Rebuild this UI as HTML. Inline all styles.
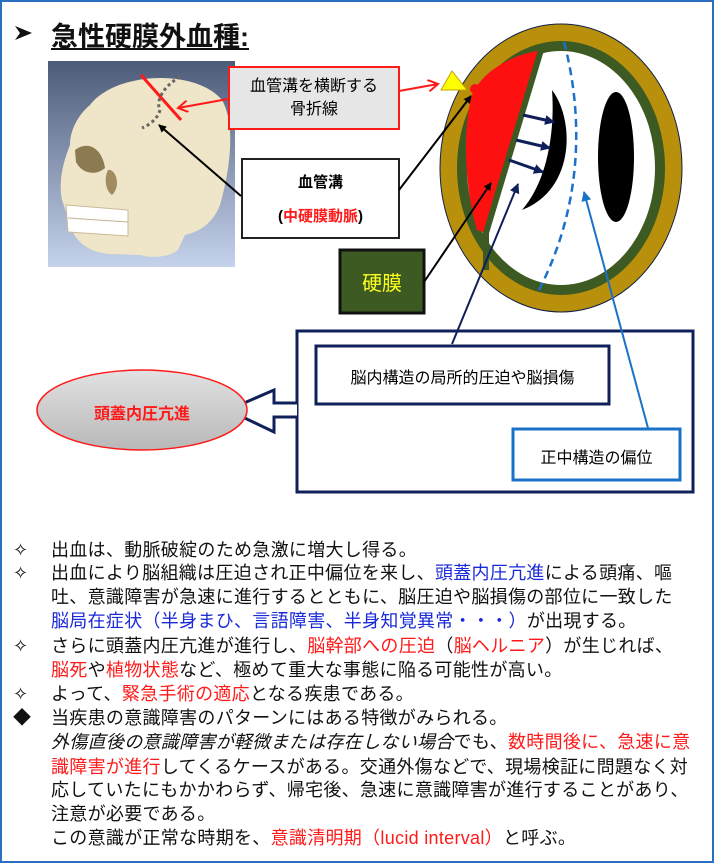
<!DOCTYPE html>
<html><head><meta charset="utf-8">
<style>
body{margin:0;background:#fff;}
#w{position:relative;width:715px;height:864px;overflow:hidden;font-family:"Liberation Sans","Noto Sans CJK JP",sans-serif;}
.t{position:absolute;left:51px;font-size:18px;line-height:24px;white-space:nowrap;color:#111;letter-spacing:0.3px}
.b{position:absolute;left:13px;font-size:18px;line-height:24px;color:#111}
.r{color:#ff1a1a}.u{color:#1a2ad8}
</style></head><body><div id="w">
<svg width="715" height="864" style="position:absolute;left:0;top:0">
<defs>
<linearGradient id="bg" x1="0" y1="0" x2="0" y2="1"><stop offset="0" stop-color="#4c5b78"/><stop offset="1" stop-color="#c5d2ec"/></linearGradient>
<linearGradient id="eg" x1="0" y1="0" x2="0" y2="1"><stop offset="0" stop-color="#e2e2e2"/><stop offset="1" stop-color="#b8b8b8"/></linearGradient>
<marker id="ab" markerWidth="8" markerHeight="8" refX="7" refY="4" orient="auto" markerUnits="userSpaceOnUse"><path d="M0,0 L8,4 L0,8 z" fill="#000"/></marker>
<marker id="ar" markerWidth="12" markerHeight="12" refX="10" refY="6" orient="auto" markerUnits="userSpaceOnUse"><path d="M0,0 L10,6 L0,12" fill="none" stroke="#ff1a1a" stroke-width="2"/></marker>
<marker id="an" markerWidth="10" markerHeight="10" refX="9" refY="5" orient="auto" markerUnits="userSpaceOnUse"><path d="M0,0 L10,5 L0,10 z" fill="#0f1f5a"/></marker>
<marker id="al" markerWidth="10" markerHeight="10" refX="9" refY="5" orient="auto" markerUnits="userSpaceOnUse"><path d="M0,0 L10,5 L0,10 z" fill="#1a72c8"/></marker>
</defs>
<rect x="1" y="1" width="712" height="861" fill="none" stroke="#2a6fc0" stroke-width="2"/>
<path d="M15,26 L32,33 L15,40 L20,33 z" fill="#111"/>
<!-- skull -->
<rect x="48" y="61" width="187" height="206" fill="url(#bg)"/>
<path d="M90,105 C115,72 195,68 222,100 C236,125 230,170 220,205 C212,225 198,232 185,235 L178,250 C168,258 150,258 140,255 L108,254 C92,252 78,245 72,230 L62,200 C58,180 64,160 70,145 C70,130 78,115 90,105 z" fill="#efe5c8"/>
<path d="M75,150 C88,140 102,148 105,168 C96,176 82,174 76,162 z" fill="#8c7a50"/>
<path d="M108,170 C115,168 122,185 112,195 C105,190 104,178 108,170 z" fill="#a08c60"/>
<path d="M66,205 L128,210 L128,236 L68,232 z" fill="#fff" stroke="#c8bb98"/>
<path d="M68,218 L128,222" stroke="#bfb291"/>
<path d="M141,75 L181,120" stroke="#ff1a1a" stroke-width="3"/>
<path d="M180,77 C165,85 155,100 160,110 C158,118 150,125 142,128" fill="none" stroke="#666" stroke-width="3" stroke-dasharray="3,3"/>
<rect x="229" y="67" width="170" height="62" fill="#e6e6e6" stroke="#ff1a1a" stroke-width="2"/>
<line x1="228" y1="99" x2="178" y2="108" stroke="#ff1a1a" stroke-width="2" marker-end="url(#ar)"/>
<line x1="399" y1="91" x2="438" y2="84" stroke="#ff1a1a" stroke-width="2" marker-end="url(#ar)"/>
<rect x="242" y="159" width="157" height="79" fill="#fff" stroke="#222" stroke-width="2"/>
<line x1="241" y1="196" x2="159" y2="125" stroke="#000" stroke-width="2" marker-end="url(#ab)"/>
<ellipse cx="561" cy="168" rx="121" ry="144" fill="#b8900c" stroke="#10204a" stroke-width="1"/>
<ellipse cx="561" cy="168" rx="104" ry="127" fill="#3d5a22"/>
<ellipse cx="561" cy="168" rx="94" ry="117" fill="#fff"/>
<path d="M532,52 L541,50 L486,233 L477,230 C465,190 462,130 472,95 C480,75 505,58 532,52 z" fill="#ff1010"/>
<path d="M541,50 L486,233 L486,270" fill="none" stroke="#3d5a22" stroke-width="6"/>
<path d="M564,42 C582,110 585,200 539,290" fill="none" stroke="#1a72c8" stroke-width="2.5" stroke-dasharray="8,5"/>
<path d="M552,90 C575,120 575,190 522,210 C548,180 555,130 552,90 z" fill="#000"/>
<ellipse cx="616" cy="157" rx="18" ry="65" fill="#000"/>
<line x1="523" y1="115" x2="554" y2="122" stroke="#0f1f5a" stroke-width="3" marker-end="url(#an)"/>
<line x1="516" y1="140" x2="550" y2="148" stroke="#0f1f5a" stroke-width="3" marker-end="url(#an)"/>
<line x1="509" y1="160" x2="543" y2="172" stroke="#0f1f5a" stroke-width="3" marker-end="url(#an)"/>
<path d="M441,90 L452,71 L467,90 z" fill="#ffff00" stroke="#c8a000"/>
<circle cx="475" cy="89" r="5" fill="#ff1010"/>
<line x1="399" y1="190" x2="471" y2="96" stroke="#000" stroke-width="2" marker-end="url(#ab)"/>
<rect x="340" y="250" width="84" height="63" fill="#3d5a22" stroke="#111" stroke-width="3"/>
<line x1="424" y1="282" x2="491" y2="183" stroke="#000" stroke-width="2" marker-end="url(#ab)"/>
<rect x="297" y="331" width="396" height="161" fill="#fff" stroke="#10205a" stroke-width="3"/>
<path d="M297,403 L274,403 L274,390 L228,410 L274,432 L274,417 L297,417" fill="#fff" stroke="#10205a" stroke-width="3"/>
<rect x="316" y="346" width="293" height="58" fill="#fff" stroke="#10205a" stroke-width="3"/>
<rect x="513" y="429" width="167" height="51" fill="#fff" stroke="#1a72c8" stroke-width="3"/>
<line x1="452" y1="344" x2="518" y2="184" stroke="#0f1f5a" stroke-width="2" marker-end="url(#an)"/>
<line x1="648" y1="428" x2="584" y2="192" stroke="#1a72c8" stroke-width="2" marker-end="url(#al)"/>
<ellipse cx="142" cy="410" rx="105" ry="40" fill="url(#eg)" stroke="#ff1a1a" stroke-width="1.5"/>
</svg>
<div style="position:absolute;left:51px;top:15px;font-size:27px;font-weight:bold;text-decoration:underline;color:#111;white-space:nowrap;letter-spacing:0px">急性硬膜外血種:</div>
<div style="position:absolute;left:229px;top:75px;width:170px;text-align:center;font-size:16px;line-height:23px">血管溝を横断する<br>骨折線</div>
<div style="position:absolute;left:242px;top:166px;width:157px;text-align:center;font-size:15px;font-weight:bold;line-height:34px">血管溝<br>(<span class="r">中硬膜動脈</span>)</div>
<div style="position:absolute;left:340px;top:267px;width:84px;text-align:center;font-size:20px;color:#ffff20">硬膜</div>
<div style="position:absolute;left:316px;top:364px;width:293px;text-align:center;font-size:16px">脳内構造の局所的圧迫や脳損傷</div>
<div style="position:absolute;left:513px;top:444px;width:167px;text-align:center;font-size:16px">正中構造の偏位</div>
<div style="position:absolute;left:37px;top:400px;width:210px;text-align:center;font-size:16px;font-weight:bold;color:#ff1a1a">頭蓋内圧亢進</div>

<div class="b" style="top:538px">✧</div><div class="t" style="top:538px">出血は、動脈破綻のため急激に増大し得る。</div>
<div class="b" style="top:561px">✧</div><div class="t" style="top:561px">出血により脳組織は圧迫され正中偏位を来し、<span class="u">頭蓋内圧亢進</span>による頭痛、嘔</div>
<div class="t" style="top:585px">吐、意識障害が急速に進行するとともに、脳圧迫や脳損傷の部位に一致した</div>
<div class="t" style="top:609px"><span class="u">脳局在症状（半身まひ、言語障害、半身知覚異常・・・）</span>が出現する。</div>
<div class="b" style="top:634px">✧</div><div class="t" style="top:634px">さらに頭蓋内圧亢進が進行し、<span class="r">脳幹部への圧迫</span>（<span class="r">脳ヘルニア</span>）が生じれば、</div>
<div class="t" style="top:658px"><span class="r">脳死</span>や<span class="r">植物状態</span>など、極めて重大な事態に陥る可能性が高い。</div>
<div class="b" style="top:682px">✧</div><div class="t" style="top:682px">よって、<span class="r">緊急手術の適応</span>となる疾患である。</div>
<div class="b" style="top:706px">◆</div><div class="t" style="top:706px">当疾患の意識障害のパターンにはある特徴がみられる。</div>
<div class="t" style="top:730px"><i>外傷直後の意識障害が軽微または存在しない場合</i>でも、<span class="r">数時間後に、急速に意</span></div>
<div class="t" style="top:755px"><span class="r">識障害が進行</span>してくるケースがある。交通外傷などで、現場検証に問題なく対</div>
<div class="t" style="top:778px">応していたにもかかわらず、帰宅後、急速に意識障害が進行することがあり、</div>
<div class="t" style="top:802px">注意が必要である。</div>
<div class="t" style="top:826px">この意識が正常な時期を、<span class="r">意識清明期（lucid interval）</span>と呼ぶ。</div>
</div></body></html>
